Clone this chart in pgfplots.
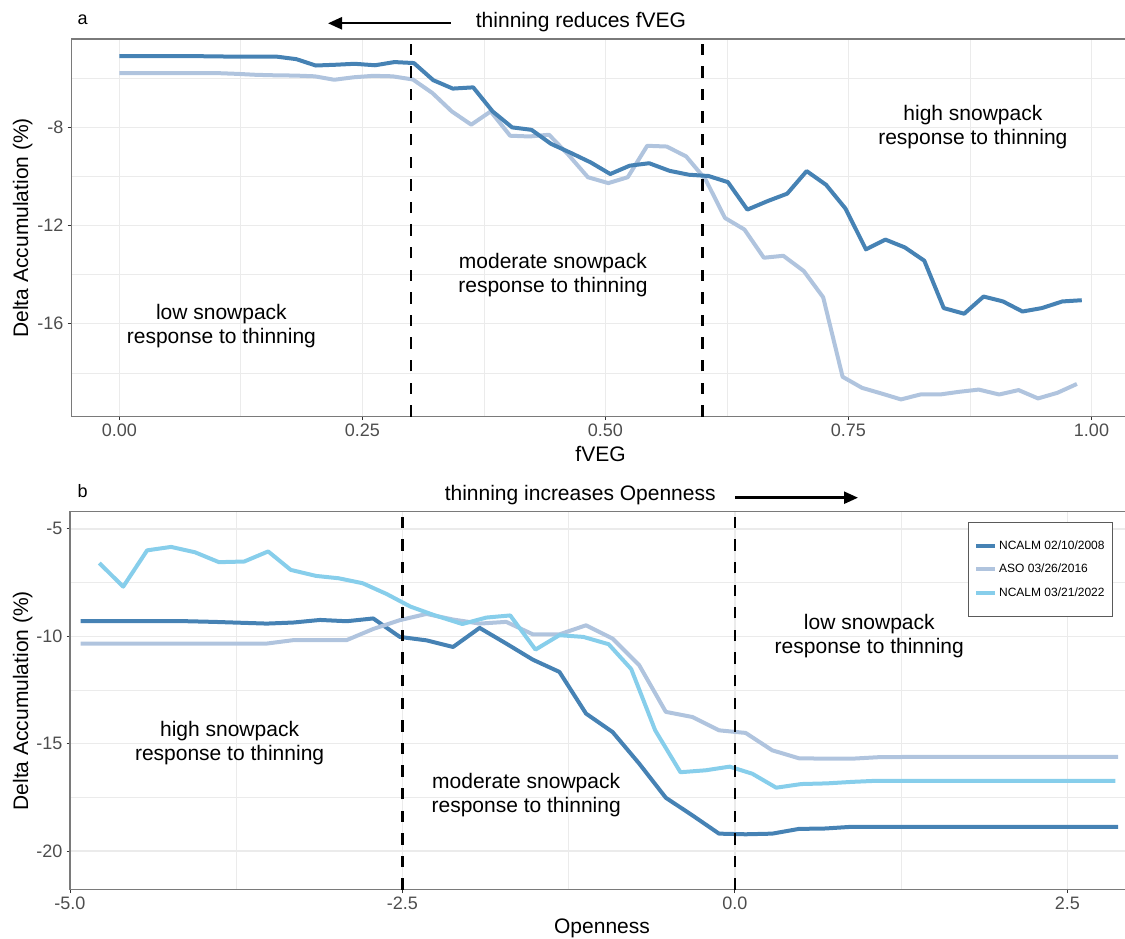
\documentclass[border=0pt]{standalone}
\usepackage{fontspec}
\setmainfont{Liberation Sans}
\usepackage{pgfplots}
\pgfplotsset{compat=1.18}
\usetikzlibrary{arrows.meta}

\definecolor{c08}{HTML}{4682B4}
\definecolor{c16}{HTML}{B0C4DE}
\definecolor{c22}{HTML}{87CEEB}
\definecolor{gridc}{HTML}{EBEBEB}
\definecolor{framec}{HTML}{7A7A7A}
\definecolor{tickmc}{HTML}{333333}
\definecolor{legc}{HTML}{5A5A5A}
\definecolor{tickc}{HTML}{4D4D4D}

\newcommand{\tickfont}{\fontsize{18}{20}\selectfont}
\newcommand{\labfont}{\fontsize{21}{24}\selectfont}

\pgfplotsset{
  panel/.style={
    scale only axis,
    axis line style={framec, line width=1.2pt},
    tick align=outside,
    xtick pos=left, ytick pos=left,
    major tick length=3.5pt,
    minor tick length=0pt,
    major tick style={tickmc, line width=1pt},
    xmajorgrids, ymajorgrids, xminorgrids, yminorgrids,
    major grid style={gridc, line width=1.4pt},
    minor grid style={gridc, line width=0.7pt},
    ticklabel style={font=\tickfont, text=tickc, inner sep=4pt},
    every axis plot/.append style={line width=4pt, line join=round, mark=none},
  },
  vref/.style={black, line width=2.9pt, dash pattern=on 11.3pt off 11.3pt, line cap=butt},
}

\begin{document}
\begin{tikzpicture}
\useasboundingbox (0pt,0pt) rectangle (1125pt,938pt);

% ---------------- panel a: fVEG ----------------
\begin{axis}[panel,
  at={(71.2pt,521.4pt)}, anchor=south west,
  width=1058.7pt, height=377.6pt,
  xmin=-0.0495, xmax=1.0395, ymin=-19.78, ymax=-4.40,
  xtick={0,0.25,0.5,0.75,1}, xticklabels={0.00,0.25,0.50,0.75,1.00},
  minor xtick={0.125,0.375,0.625,0.875},
  ytick={-16,-12,-8}, yticklabels={-16,-12,-8},
  minor ytick={-18,-14,-10,-6},
]
% ASO 03/26/2016
\addplot[c16] coordinates {
(0.000,-5.79) (0.020,-5.79) (0.040,-5.79) (0.060,-5.79) (0.080,-5.79)
(0.101,-5.79) (0.121,-5.82) (0.141,-5.86) (0.161,-5.88) (0.181,-5.89)
(0.201,-5.92) (0.221,-6.06) (0.241,-5.96) (0.261,-5.90) (0.281,-5.92)
(0.302,-6.05) (0.322,-6.60) (0.342,-7.35) (0.362,-7.89) (0.382,-7.35)
(0.402,-8.34) (0.422,-8.37) (0.442,-8.30) (0.462,-9.12) (0.482,-10.03)
(0.503,-10.27) (0.523,-10.03) (0.543,-8.75) (0.563,-8.78) (0.583,-9.18)
(0.603,-10.12) (0.623,-11.69) (0.643,-12.16) (0.663,-13.31) (0.683,-13.23)
(0.704,-13.85) (0.724,-14.92) (0.744,-18.16) (0.764,-18.61) (0.784,-18.84)
(0.804,-19.08) (0.824,-18.88) (0.844,-18.88) (0.864,-18.77) (0.884,-18.68)
(0.905,-18.88) (0.925,-18.70) (0.945,-19.04) (0.965,-18.81) (0.985,-18.45)
};
% NCALM 02/10/2008
\addplot[c08] coordinates {
(0.000,-5.10) (0.020,-5.10) (0.040,-5.10) (0.061,-5.10) (0.081,-5.10)
(0.101,-5.11) (0.121,-5.12) (0.141,-5.12) (0.162,-5.12) (0.182,-5.22)
(0.202,-5.48) (0.222,-5.45) (0.242,-5.41) (0.263,-5.47) (0.283,-5.34)
(0.303,-5.38) (0.323,-6.08) (0.343,-6.42) (0.364,-6.37) (0.384,-7.35)
(0.404,-8.00) (0.424,-8.10) (0.444,-8.67) (0.465,-9.05) (0.485,-9.43)
(0.505,-9.90) (0.525,-9.56) (0.545,-9.46) (0.566,-9.77) (0.586,-9.93)
(0.606,-9.98) (0.626,-10.23) (0.646,-11.35) (0.667,-11.00) (0.687,-10.70)
(0.707,-9.78) (0.727,-10.34) (0.747,-11.31) (0.768,-12.97) (0.788,-12.57)
(0.808,-12.89) (0.828,-13.43) (0.848,-15.36) (0.869,-15.59) (0.889,-14.89)
(0.909,-15.09) (0.929,-15.50) (0.949,-15.36) (0.970,-15.09) (0.990,-15.04)
};
\addplot[vref] coordinates {(0.3,-19.78) (0.3,-4.40)};
\addplot[vref] coordinates {(0.6,-19.78) (0.6,-4.40)};
\node[font=\labfont, align=center] at (axis cs:0.105,-16.1) {low snowpack\\response to thinning};
\node[font=\labfont, align=center] at (axis cs:0.446,-14.0) {moderate snowpack\\response to thinning};
\node[font=\labfont, align=center] at (axis cs:0.878,-8.0) {high snowpack\\response to thinning};
\end{axis}

% ---------------- panel b: Openness ----------------
\begin{axis}[panel,
  at={(70pt,48.3pt)}, anchor=south west,
  width=1064pt, height=378pt,
  xmin=-5, xmax=3, ymin=-21.8, ymax=-4.2,
  xtick={-5,-2.5,0,2.5}, xticklabels={-5.0,-2.5,0.0,2.5},
  minor xtick={-3.75,-1.25,1.25},
  ytick={-20,-15,-10,-5}, yticklabels={-20,-15,-10,-5},
  minor ytick={-17.5,-12.5,-7.5},
  legend cell align=left,
  legend image code/.code={\draw[#1, line width=4pt] (0pt,0pt) -- (19pt,0pt);},
  legend style={at={(0.9803,0.9735)}, anchor=north east,
    draw=legc, line width=0.9pt, fill=white,
    font=\fontsize{12}{14}\selectfont,
    inner xsep=6pt, inner ysep=16pt, row sep=8pt,
    nodes={inner sep=2pt, text height=9pt, text depth=2.5pt}},
]
\addplot[c08] coordinates {
(-4.92,-9.30) (-4.72,-9.30) (-4.52,-9.30) (-4.32,-9.30) (-4.12,-9.30)
(-3.92,-9.33) (-3.72,-9.37) (-3.52,-9.41) (-3.32,-9.36) (-3.12,-9.24)
(-2.92,-9.30) (-2.72,-9.17) (-2.52,-10.03) (-2.32,-10.19) (-2.12,-10.50)
(-1.92,-9.61) (-1.72,-10.34) (-1.52,-11.09) (-1.32,-11.66) (-1.12,-13.60)
(-0.92,-14.46) (-0.72,-15.93) (-0.52,-17.52) (-0.32,-18.34) (-0.12,-19.19)
(0.08,-19.22) (0.28,-19.19) (0.48,-18.97) (0.68,-18.95) (0.88,-18.87)
(1.08,-18.87) (1.28,-18.87) (1.48,-18.87) (1.68,-18.87) (1.88,-18.87)
(2.08,-18.87) (2.28,-18.87) (2.48,-18.87) (2.68,-18.87) (2.88,-18.87)
};
\addlegendentry{NCALM 02/10/2008}
\addplot[c16] coordinates {
(-4.92,-10.34) (-4.72,-10.34) (-4.52,-10.34) (-4.32,-10.34) (-4.12,-10.34)
(-3.92,-10.34) (-3.72,-10.34) (-3.52,-10.34) (-3.32,-10.18) (-3.12,-10.18)
(-2.92,-10.18) (-2.72,-9.66) (-2.52,-9.25) (-2.32,-8.96) (-2.12,-9.22)
(-1.92,-9.41) (-1.72,-9.33) (-1.52,-9.91) (-1.32,-9.91) (-1.12,-9.49)
(-0.92,-10.11) (-0.72,-11.35) (-0.52,-13.52) (-0.32,-13.76) (-0.12,-14.38)
(0.08,-14.50) (0.28,-15.31) (0.48,-15.68) (0.68,-15.70) (0.88,-15.70)
(1.08,-15.63) (1.28,-15.62) (1.48,-15.62) (1.68,-15.62) (1.88,-15.62)
(2.08,-15.62) (2.28,-15.62) (2.48,-15.62) (2.68,-15.62) (2.88,-15.62)
};
\addlegendentry{ASO 03/26/2016}
\addplot[c22] coordinates {
(-4.78,-6.59) (-4.60,-7.69) (-4.42,-6.00) (-4.24,-5.84) (-4.06,-6.09)
(-3.88,-6.55) (-3.69,-6.52) (-3.51,-6.05) (-3.34,-6.91) (-3.15,-7.19)
(-2.98,-7.30) (-2.80,-7.53) (-2.62,-8.03) (-2.44,-8.62) (-2.26,-9.02)
(-2.05,-9.43) (-1.87,-9.13) (-1.69,-9.03) (-1.50,-10.62) (-1.32,-9.95)
(-1.14,-10.03) (-0.95,-10.37) (-0.78,-11.53) (-0.60,-14.38) (-0.41,-16.33)
(-0.22,-16.24) (-0.04,-16.07) (0.13,-16.40) (0.31,-17.05) (0.50,-16.88)
(0.69,-16.85) (0.88,-16.78) (1.06,-16.73) (1.25,-16.73) (1.44,-16.73)
(1.63,-16.73) (1.82,-16.73) (2.01,-16.73) (2.20,-16.73) (2.39,-16.73)
(2.58,-16.73) (2.77,-16.73) (2.86,-16.73)
};
\addlegendentry{NCALM 03/21/2022}
\addplot[vref, forget plot] coordinates {(-2.5,-21.8) (-2.5,-4.2)};
\addplot[vref, forget plot] coordinates {(0,-21.8) (0,-4.2)};
\node[font=\labfont, align=center] at (axis cs:-3.80,-14.97) {high snowpack\\response to thinning};
\node[font=\labfont, align=center] at (axis cs:-1.57,-17.40) {moderate snowpack\\response to thinning};
\node[font=\labfont, align=center] at (axis cs:1.01,-10.0) {low snowpack\\response to thinning};
\end{axis}

% panel tags, titles and axis titles
\node[anchor=base west, font=\fontsize{18}{20}\selectfont] at (74pt,913pt) {a};
\node[anchor=base west, font=\fontsize{18}{20}\selectfont] at (74pt,440pt) {b};

\draw[line width=2.4pt, -{Triangle[length=14pt,width=12pt]}] (450.7pt,914.7pt) -- (328pt,914.7pt);
\node[anchor=base west, font=\labfont, inner sep=0pt] at (475.7pt,910pt) {thinning reduces fVEG};

\node[anchor=base west, font=\labfont, inner sep=0pt] at (444.6pt,437pt) {thinning increases Openness};
\draw[line width=2.4pt, -{Triangle[length=14pt,width=12pt]}] (735pt,440.3pt) -- (858pt,440.3pt);

\node[anchor=base, font=\labfont, inner sep=0pt] at (600.5pt,476.5pt) {fVEG};
\node[anchor=base, font=\labfont, inner sep=0pt] at (602pt,5pt) {Openness};

\node[anchor=base, rotate=90, font=\labfont, inner sep=0pt] at (28pt,710.2pt) {Delta Accumulation (\%)};
\node[anchor=base, rotate=90, font=\labfont, inner sep=0pt] at (28pt,237.3pt) {Delta Accumulation (\%)};
\end{tikzpicture}
\end{document}
